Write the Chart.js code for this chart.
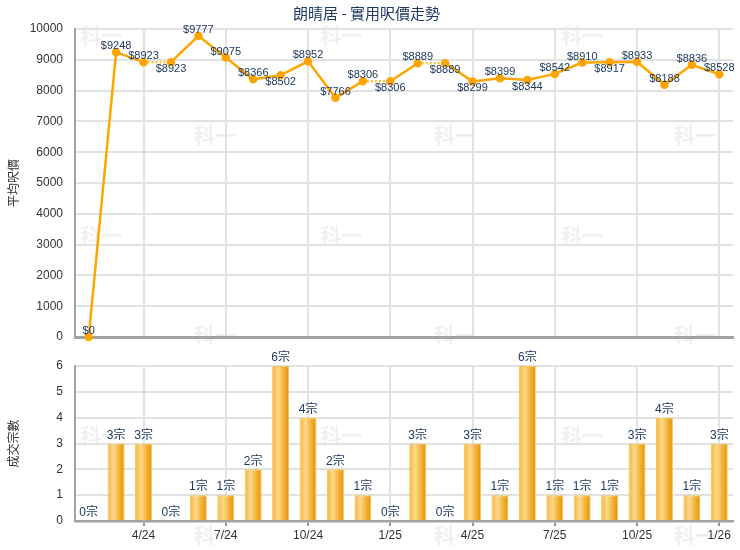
<!DOCTYPE html>
<html>
<head>
<meta charset="utf-8">
<script src="https://cdn.jsdelivr.net/npm/chart.js@4.4.1/dist/chart.umd.min.js"></script>
<style>
  html, body { margin:0; padding:0; background:#fff; }
  #wrap { position:relative; width:740px; height:550px; overflow:hidden; }
  canvas { position:absolute; left:0; }
  #priceChart { top:0; }
  #dealChart { top:345px; }
</style>
</head>
<body>
<div id="wrap">
  <canvas id="priceChart" width="740" height="345"></canvas>
  <canvas id="dealChart" width="740" height="205"></canvas>
</div>
<script>
// --- data
const months = ["2/24","3/24","4/24","5/24","6/24","7/24","8/24","9/24","10/24","11/24","12/24",
  "1/25","2/25","3/25","4/25","5/25","6/25","7/25","8/25","9/25","10/25","11/25","12/25","1/26"];
const avgPrice = [0,9248,8923,8923,9777,9075,8366,8502,8952,7766,8306,8306,
  8889,8889,8299,8399,8344,8542,8910,8917,8933,8188,8836,8528];
const dealCount = [0,3,3,0,1,1,2,6,4,2,1,0,3,0,3,1,6,1,1,1,3,4,1,3];
const shownTicks = ["4/24","7/24","10/24","1/25","4/25","7/25","10/25","1/26"];
const priceTitle = "朗晴居 - 實用呎價走勢";

Chart.defaults.font.family = "Arial, 'Liberation Sans', 'Noto Sans CJK TC', sans-serif";
Chart.defaults.color = "#333";

const NAVY = "#1f3a60";
const GRID = "#e2e2e2";
const AXIS = "#a3a3a3";
const NONE = "rgba(0,0,0,0)";
const CJK = "'Noto Sans CJK TC', 'Noto Sans CJK SC', sans-serif";

const isShown = i => shownTicks.includes(months[i]);
const gridColor = ctx => (isShown(ctx.index) ? GRID : NONE);

// faint "科一" watermark, page coords (each canvas draws its own rows)
const watermark = {
  id: "watermark",
  beforeDraw(chart) {
    const c = chart.ctx;
    const top = chart.canvas.offsetTop;
    c.save();
    c.font = "bold 21px " + CJK;
    c.fillStyle = "rgba(0,0,0,0.06)";
    c.textAlign = "center";
    c.textBaseline = "middle";
    for (let r = 0; r < 6; r++) {
      const y = 35 + r * 100;
      if ((top === 0) !== (y < 345)) continue;
      const cols = r % 2 ? [215, 455, 695] : [101, 341, 582];
      cols.forEach(x => c.fillText("科一", x, y - top));
    }
    c.restore();
  }
};

// price labels next to points
const belowIdx = [3, 7, 11, 13, 14, 16, 19];
const priceLabels = {
  id: "priceLabels",
  afterDatasetsDraw(chart) {
    const c = chart.ctx;
    const meta = chart.getDatasetMeta(0);
    c.save();
    c.font = "11px Arial, 'Liberation Sans', sans-serif";
    c.fillStyle = NAVY;
    c.textAlign = "center";
    c.textBaseline = "middle";
    meta.data.forEach((p, i) => {
      const dy = belowIdx.includes(i) ? 7 : -6;
      c.fillText("$" + avgPrice[i], p.x, p.y + dy);
    });
    c.restore();
  }
};

// count labels above bars
const dealLabels = {
  id: "dealLabels",
  afterDatasetsDraw(chart) {
    const c = chart.ctx;
    const meta = chart.getDatasetMeta(0);
    c.save();
    c.font = "12px Arial, " + CJK;
    c.fillStyle = NAVY;
    c.textAlign = "center";
    c.textBaseline = "middle";
    meta.data.forEach((b, i) => {
      c.fillText(dealCount[i] + "宗", b.x, b.y - 8);
    });
    c.restore();
  }
};

// shared y axis look (tick gap done with an invisible tick mark so it
// doesn't add to the bottom padding)
function yAxis(max, step, title) {
  return {
    min: 0,
    max: max,
    ticks: { stepSize: step, padding: 0, font: { size: 12 }, color: "#333", callback: v => String(v) },
    grid: { color: GRID, lineWidth: 2, drawTicks: true, tickLength: 12, tickColor: NONE },
    border: { color: AXIS, width: 2 },
    title: { display: true, text: title, color: "#333", font: { size: 12, family: CJK }, padding: { top: 6, bottom: 0 } },
    afterFit: s => { s.width = 75; }
  };
}

// --- price line chart
new Chart(document.getElementById("priceChart"), {
  type: "line",
  data: {
    labels: months,
    datasets: [{
      data: avgPrice,
      borderColor: "#ffa500",
      backgroundColor: "#ffa500",
      borderWidth: 2.5,
      pointRadius: 3,
      pointHoverRadius: 3,
      tension: 0,
      clip: false,
      segment: {
        borderDash: ctx => (ctx.p1DataIndex > 0 && dealCount[ctx.p1DataIndex] === 0 ? [2, 2] : undefined),
        borderColor: ctx => (ctx.p1DataIndex > 0 && dealCount[ctx.p1DataIndex] === 0 ? "#ffc040" : undefined)
      }
    }]
  },
  options: {
    responsive: false,
    animation: false,
    layout: { padding: { left: 0, right: 7, top: 0, bottom: 0 } },
    plugins: {
      legend: { display: false },
      tooltip: { enabled: false },
      title: {
        display: true,
        text: priceTitle,
        color: NAVY,
        font: { size: 15, weight: "normal", family: CJK },
        padding: { top: 4, bottom: 7 }
      }
    },
    scales: {
      x: {
        offset: true,
        ticks: { display: false, autoSkip: false },
        grid: { offset: false, color: gridColor, lineWidth: 2, drawTicks: false },
        border: { color: AXIS, width: 3 },
        afterFit: s => { s.height = 8; }
      },
      y: yAxis(10000, 1000, "平均呎價")
    }
  },
  plugins: [watermark, priceLabels]
});

// --- deal count bar chart
function barFill(ctx) {
  const chart = ctx.chart;
  if (!chart.chartArea || ctx.dataIndex === undefined) return "#f2b230";
  const cx = chart.scales.x.getPixelForValue(ctx.dataIndex);
  const half = 8.5;
  const g = chart.ctx.createLinearGradient(cx - half, 0, cx + half, 0);
  g.addColorStop(0, "#f0b43a");
  g.addColorStop(0.35, "#ffd98c");
  g.addColorStop(0.7, "#f2b035");
  g.addColorStop(1, "#e39400");
  return g;
}

new Chart(document.getElementById("dealChart"), {
  type: "bar",
  data: {
    labels: months,
    datasets: [{
      data: dealCount,
      backgroundColor: barFill,
      borderColor: "#f8c45a",
      borderWidth: 1,
      barPercentage: 0.62,
      categoryPercentage: 1
    }]
  },
  options: {
    responsive: false,
    animation: false,
    layout: { padding: { left: 0, right: 7, top: 21, bottom: 0 } },
    plugins: { legend: { display: false }, tooltip: { enabled: false } },
    scales: {
      x: {
        offset: true,
        ticks: {
          autoSkip: false,
          maxRotation: 0,
          padding: 2,
          font: { size: 12 },
          color: "#333",
          callback: (v, i) => (isShown(i) ? months[i] : "")
        },
        grid: { offset: false, color: gridColor, lineWidth: 2, drawTicks: true, tickLength: 5, tickColor: ctx => (isShown(ctx.index) ? "#999" : NONE) },
        border: { color: AXIS, width: 2.5 },
        afterFit: s => { s.height = 29; }
      },
      y: yAxis(6, 1, "成交宗數")
    }
  },
  plugins: [watermark, dealLabels]
});
</script>
</body>
</html>
